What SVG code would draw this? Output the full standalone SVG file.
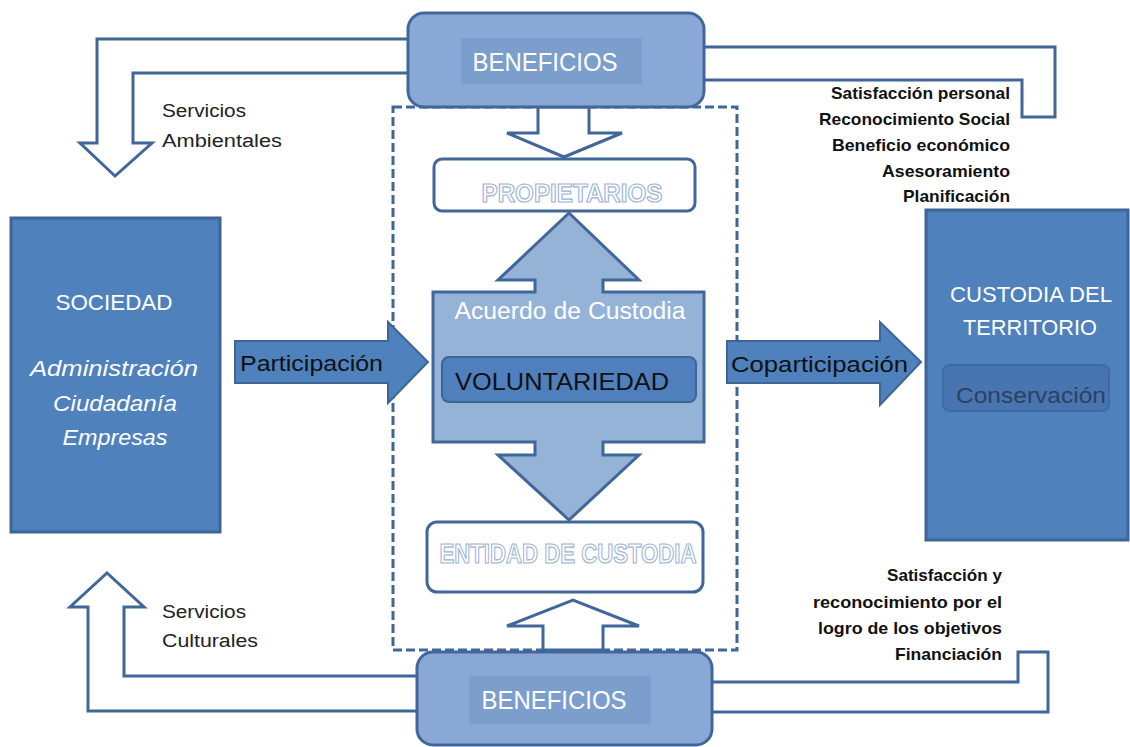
<svg xmlns="http://www.w3.org/2000/svg" width="1130" height="747" viewBox="0 0 1130 747">
<style>
text{font-family:"Liberation Sans","DejaVu Sans",sans-serif}
.conn{fill:#fff;stroke:#41679a;stroke-width:3;stroke-linejoin:miter}
.dark{fill:#4f81bd;stroke:#3d6596;stroke-width:3}
.ben{fill:#89a8d5;stroke:#41679a;stroke-width:3}
.beni{fill:#7c9ecd}
.wbox{fill:#fff;stroke:#41679a;stroke-width:3}
.wt{fill:#fff;text-anchor:middle}
.ol{fill:#fff;stroke:#9bb3d6;stroke-width:1.2;text-anchor:middle;font-weight:bold}
.bt{fill:#111;text-anchor:middle}
.lab{fill:#222;font-size:18px}
.rt{fill:#111;font-size:17px;font-weight:bold;text-anchor:end}
</style>
<rect id="frame" x="393" y="107" width="344" height="543" fill="none" stroke="#41679a" stroke-width="3" stroke-dasharray="9,4"/>
<g id="connectors">
<polygon class="conn" points="410,39 97,39 97,143 80,143 115,176 152,143 133,143 133,73 410,73"/>
<polygon class="conn" points="702,47 1055,47 1055,117 1022,117 1022,80 702,80"/>
<polygon class="conn" points="419,711 88,711 88,607 70,607 107,573 144,607 124,607 124,676 419,676"/>
<polygon class="conn" points="710,682 1018,682 1018,652 1048,652 1048,712 710,712"/>
<polygon class="conn" points="538,107 538,133 507,133 564,157 622,133 589,133 589,107"/>
<polygon class="conn" points="543,650 543,626 507,626 573,600 639,626 603,626 603,650"/>
</g>
<g id="sociedad">
<rect class="dark" x="11" y="218" width="209" height="314"/>
<text class="wt" x="114" y="310" font-size="22" textLength="117" lengthAdjust="spacingAndGlyphs">SOCIEDAD</text>
<text class="wt" x="114" y="376" font-size="22" font-style="italic" textLength="168" lengthAdjust="spacingAndGlyphs">Administración</text>
<text class="wt" x="115" y="411" font-size="22" font-style="italic" textLength="124" lengthAdjust="spacingAndGlyphs">Ciudadanía</text>
<text class="wt" x="115" y="445" font-size="22" font-style="italic" textLength="105" lengthAdjust="spacingAndGlyphs">Empresas</text>
</g>
<g id="custodia-territorio">
<rect class="dark" x="926" y="210" width="202" height="330"/>
<text class="wt" x="1031" y="302" font-size="22" textLength="162" lengthAdjust="spacingAndGlyphs">CUSTODIA DEL</text>
<text class="wt" x="1030" y="335" font-size="22" textLength="134" lengthAdjust="spacingAndGlyphs">TERRITORIO</text>
<rect x="943" y="365" width="166" height="46" rx="7" fill="#4874b0" stroke="#3f6aa3" stroke-width="2"/>
<text x="1031" y="403" font-size="22" fill="#2b4262" text-anchor="middle" textLength="150" lengthAdjust="spacingAndGlyphs">Conservación</text>
</g>
<g id="beneficios-top">
<rect class="ben" x="408" y="13" width="296" height="94" rx="16"/>
<rect class="beni" x="461" y="38" width="181" height="46"/>
<text class="wt" x="545" y="71" font-size="26" textLength="145" lengthAdjust="spacingAndGlyphs">BENEFICIOS</text>
</g>
<g id="beneficios-bottom">
<rect class="ben" x="417" y="652" width="295" height="93" rx="16"/>
<rect class="beni" x="469" y="676" width="182" height="48"/>
<text class="wt" x="554" y="709" font-size="25" textLength="145" lengthAdjust="spacingAndGlyphs">BENEFICIOS</text>
</g>
<g id="propietarios">
<rect class="wbox" x="434" y="159" width="261" height="52" rx="8"/>
<text class="ol" x="572" y="202" font-size="26" textLength="181" lengthAdjust="spacingAndGlyphs">PROPIETARIOS</text>
</g>
<g id="acuerdo">
<polygon points="569,213 639,280 603,280 603,292 704,292 704,442 603,442 603,455 639,455 569,520 498,455 535,455 535,442 433,442 433,292 535,292 535,280 498,280" fill="#95b3d7" stroke="#41679a" stroke-width="3" stroke-linejoin="miter"/>
<text class="wt" x="570" y="319" font-size="23" textLength="231" lengthAdjust="spacingAndGlyphs">Acuerdo de Custodia</text>
<rect x="442" y="357" width="254" height="45" rx="7" fill="#4f7fbc" stroke="#3d6596" stroke-width="2"/>
<text class="bt" x="562" y="390" font-size="24" textLength="214" lengthAdjust="spacingAndGlyphs">VOLUNTARIEDAD</text>
</g>
<g id="entidad">
<rect class="wbox" x="427" y="522" width="276" height="70" rx="10"/>
<text class="ol" x="568" y="563" font-size="27" textLength="257" lengthAdjust="spacingAndGlyphs">ENTIDAD DE CUSTODIA</text>
</g>
<g id="participacion">
<polygon points="235,341 388,341 388,322 428,362 388,403 388,383 235,383" fill="#4f81bd" stroke="#3d6596" stroke-width="2"/>
<text x="240" y="371" font-size="22" fill="#111" textLength="143" lengthAdjust="spacingAndGlyphs">Participación</text>
</g>
<g id="coparticipacion">
<polygon points="727,341 880,341 880,322 921,362 880,405 880,383 727,383" fill="#4f81bd" stroke="#3d6596" stroke-width="2"/>
<text x="731" y="372" font-size="22" fill="#111" textLength="177" lengthAdjust="spacingAndGlyphs">Coparticipación</text>
</g>
<g id="labels">
<text class="lab" x="162" y="117" textLength="84" lengthAdjust="spacingAndGlyphs">Servicios</text>
<text class="lab" x="162" y="147" textLength="120" lengthAdjust="spacingAndGlyphs">Ambientales</text>
<text class="lab" x="162" y="618" textLength="84" lengthAdjust="spacingAndGlyphs">Servicios</text>
<text class="lab" x="162" y="647" textLength="96" lengthAdjust="spacingAndGlyphs">Culturales</text>
<text class="rt" x="1010" y="99" textLength="179" lengthAdjust="spacingAndGlyphs">Satisfacción personal</text>
<text class="rt" x="1010" y="125" textLength="191" lengthAdjust="spacingAndGlyphs">Reconocimiento Social</text>
<text class="rt" x="1010" y="151" textLength="178" lengthAdjust="spacingAndGlyphs">Beneficio económico</text>
<text class="rt" x="1010" y="177" textLength="128" lengthAdjust="spacingAndGlyphs">Asesoramiento</text>
<text class="rt" x="1010" y="202" textLength="107" lengthAdjust="spacingAndGlyphs">Planificación</text>
<text class="rt" x="1002" y="581" textLength="115" lengthAdjust="spacingAndGlyphs">Satisfacción y</text>
<text class="rt" x="1002" y="608" textLength="189" lengthAdjust="spacingAndGlyphs">reconocimiento por el</text>
<text class="rt" x="1002" y="634" textLength="184" lengthAdjust="spacingAndGlyphs">logro de los objetivos</text>
<text class="rt" x="1002" y="660" textLength="107" lengthAdjust="spacingAndGlyphs">Financiación</text>
</g>
</svg>
